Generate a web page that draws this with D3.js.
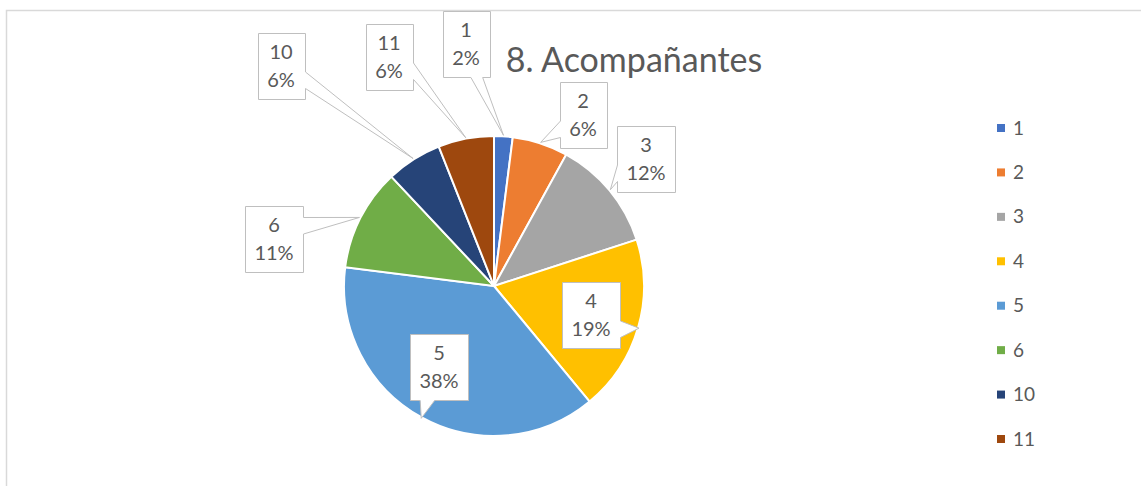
<!DOCTYPE html>
<html>
<head>
    <meta charset="utf-8">
    <style>
        body {
            margin: 0;
            background: white;
        }

        svg {
            font-family: Lato, 'Open Sans', sans-serif;
            display: block;
        }
    </style>
</head>
<body>
    <svg width="1141" height="486"></svg>

<script src="https://d3js.org/d3.v7.min.js"></script>
<script>

    // chart data
    let categories = ["1", "2", "3", "4", "5", "6", "10", "11"]
    let values = [2, 6, 12, 19, 38, 11, 6, 6]
    let colors = ["#4472C4", "#ED7D31", "#A5A5A5", "#FFC000", "#5B9BD5", "#70AD47", "#264478", "#9E480E"]
    let title = "8. Acompañantes"

    // where each label box sits, relative to the pie centre (dragged by hand in the original)
    let labelOffsets = [[-28, -242], [89, -171], [152, -127], [97, 29], [-55, 81], [-220, -47], [-213, -220], [-105, -229]]

    let width = 1141
    let height = 486
    let cx = 494
    let cy = 286
    let radius = 150
    let textColor = "#595959"

    let svg = d3.select("svg")

    // chart area border
    svg.append("rect")
        .attr("x", 6.5)
        .attr("y", 10.5)
        .attr("width", 2000)
        .attr("height", 2000)
        .style("fill", "none")
        .style("stroke", "#d9d9d9")
        .style("stroke-width", 1.5)

    let data = categories.map((c, i) => ({ cat: c, value: values[i], color: colors[i], offset: labelOffsets[i] }))
    let total = d3.sum(values)

    let pie = d3.pie()
        .sort(null)
        .value(d => d.value)

    let arc = d3.arc()
        .innerRadius(0)
        .outerRadius(radius)

    let g = svg.append("g")
        .attr("transform", `translate(${cx},${cy})`)

    let arcs = pie(data)

    g.selectAll(".slice")
        .data(arcs)
        .join("path")
        .attr("class", "slice")
        .attr("d", arc)
        .style("fill", d => d.data.color)
        .style("stroke", "white")
        .style("stroke-width", 2)

    // excel style wedgeRectCallout outline
    function calloutPath(x, y, w, h, tx, ty) {
        let dx = tx - (x + w / 2)
        let dy = ty - (y + h / 2)
        let dq = dx * h / w
        let pts
        if (Math.abs(dy) > Math.abs(dq)) {
            let x1 = x + w * (dx > 0 ? 7 : 2) / 12
            let x2 = x + w * (dx > 0 ? 10 : 5) / 12
            if (dy > 0) pts = [[x, y], [x + w, y], [x + w, y + h], [x2, y + h], [tx, ty], [x1, y + h], [x, y + h]]
            else pts = [[x, y], [x1, y], [tx, ty], [x2, y], [x + w, y], [x + w, y + h], [x, y + h]]
        } else {
            let y1 = y + h * (dy > 0 ? 7 : 2) / 12
            let y2 = y + h * (dy > 0 ? 10 : 5) / 12
            if (dx > 0) pts = [[x, y], [x + w, y], [x + w, y1], [tx, ty], [x + w, y2], [x + w, y + h], [x, y + h]]
            else pts = [[x, y], [x + w, y], [x + w, y + h], [x, y + h], [x, y2], [tx, ty], [x, y1]]
        }
        return "M" + pts.join("L") + "Z"
    }

    let pct = d3.format(".0%")
    let labels = g.selectAll(".label")
        .data(arcs)
        .join("g")
        .attr("class", "label")

    labels.each(function (d) {
        let lg = d3.select(this)
        let path = lg.append("path")
        let bx = d.data.offset[0]
        let by = d.data.offset[1]

        let t1 = lg.append("text")
            .attr("x", bx)
            .attr("y", by - 7)
            .attr("text-anchor", "middle")
            .style("font-size", "20px")
            .style("fill", textColor)
            .text(d.data.cat)
        let t2 = lg.append("text")
            .attr("x", bx)
            .attr("y", by + 21)
            .attr("text-anchor", "middle")
            .style("font-size", "20px")
            .style("fill", textColor)
            .text(pct(d.data.value / total))

        let tw = Math.max(t1.node().getComputedTextLength(), t2.node().getComputedTextLength())
        let w = Math.round(tw + 19)
        let h = 66
        let x = Math.round(bx - w / 2) + 0.5
        let y = Math.round(by - h / 2) + 0.5

        let mid = (d.startAngle + d.endAngle) / 2
        let tx = Math.sin(mid) * (radius + 1)
        let ty = -Math.cos(mid) * (radius + 1)

        path.attr("d", calloutPath(x, y, w, h, tx, ty))
            .style("fill", "white")
            .style("stroke", "#bfbfbf")
            .style("stroke-width", 1)
    })

    // title
    svg.append("text")
        .attr("x", 634)
        .attr("y", 72)
        .attr("text-anchor", "middle")
        .style("font-size", "34px")
        .style("fill", textColor)
        .text(title)

    // legend
    let legendY = d3.scalePoint()
        .domain(categories)
        .range([128, 439])

    let legend = svg.append("g")
        .selectAll(".legend")
        .data(data)
        .join("g")
        .attr("class", "legend")
        .attr("transform", d => `translate(997,${legendY(d.cat)})`)

    legend.append("rect")
        .attr("x", 0)
        .attr("y", -4)
        .attr("width", 8)
        .attr("height", 8)
        .style("fill", d => d.color)

    legend.append("text")
        .attr("x", 16)
        .attr("y", 6.5)
        .style("font-size", "19px")
        .style("fill", textColor)
        .text(d => d.cat)

</script>
</body>
</html>
